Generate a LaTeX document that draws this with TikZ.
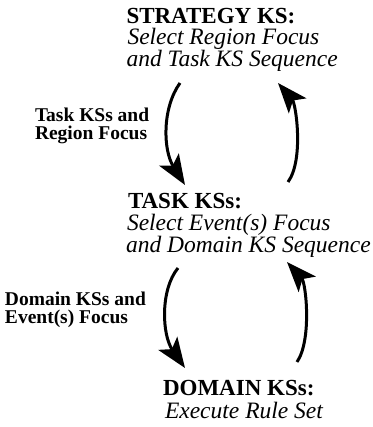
\documentclass[tikz,border=0pt]{standalone}
\usepackage{fontspec}
\setmainfont{Liberation Serif}
\usetikzlibrary{arrows.meta}
\begin{document}
\begin{tikzpicture}[x=1pt,y=-1pt,
  every node/.style={inner sep=0pt,outer sep=0pt,anchor=base west},
  head/.style={font=\fontsize{23}{25}\selectfont\bfseries,text depth=0pt},
  sub/.style={font=\fontsize{23.5}{25}\selectfont\itshape,text height=15.5pt,text depth=4.5pt},
  lab/.style={font=\fontsize{19.5}{21}\selectfont\bfseries,text height=13pt,text depth=4pt},
  flow/.style={line width=3pt,-{Stealth[length=30pt,width=23pt,inset=7pt]}}]
\useasboundingbox (0,0) rectangle (372,427);
% strategy block
\node[head] (s1) at (126.5,23.5) {STRATEGY KS:};
\node[sub]  (s2) at (127.5,44.5) {Select Region Focus};
\node[sub]  (s3) at (126.5,66.5) {and Task KS Sequence};
% task block
\node[head] (t1) at (128,208.3) {TASK KSs:};
\node[sub]  (t2) at (127,230) {Select Event(s) Focus};
\node[sub]  (t3) at (126,252.5) {and Domain KS Sequence};
% domain block
\node[head] (d1) at (163,395) {DOMAIN KSs:};
\node[sub]  (d2) at (165,418) {Execute Rule Set};
% labels
\node[lab] (l1a) at (35,121.5) {Task KSs and};
\node[lab] (l1b) at (35,140) {Region Focus};
\node[lab] (l2a) at (5,305) {Domain KSs and};
\node[lab] (l2b) at (5,323) {Event(s) Focus};
% arrows
\draw[flow] ([shift={(53.5,16.5)}]s3.base west) .. controls +(-18,25) and +(-22,-35) .. ([shift={(57,-23.3)}]t1.base west);
\draw[flow] ([shift={(160,-26.3)}]t1.base west) .. controls +(16,-22) and +(18,21) .. ([shift={(151.5,16.5)}]s3.base west);
\draw[flow] ([shift={(52,15.5)}]t3.base west) .. controls +(-18,22) and +(-23,-33) .. ([shift={(22,-27)}]d1.base west);
\draw[flow] ([shift={(134,-33)}]d1.base west) .. controls +(15,-22) and +(19,21) .. ([shift={(161,9.5)}]t3.base west);
\end{tikzpicture}
\end{document}
